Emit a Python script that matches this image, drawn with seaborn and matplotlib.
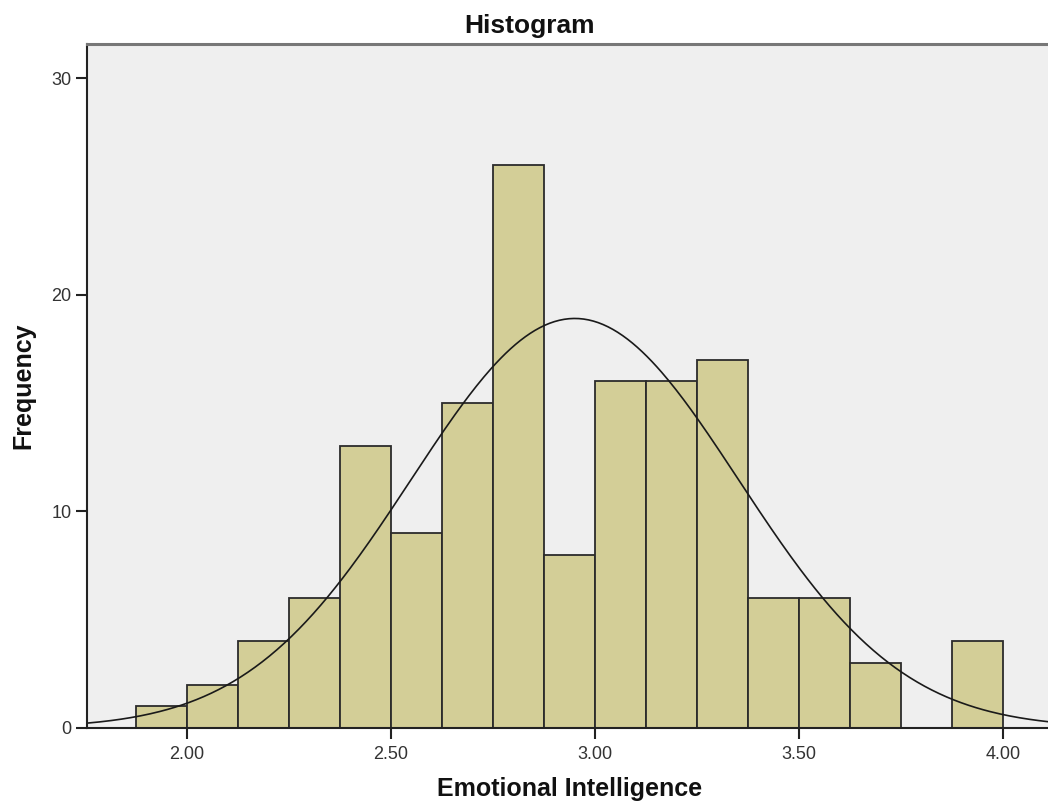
import numpy as np
import pandas as pd
import matplotlib
matplotlib.use("Agg")
import matplotlib.pyplot as plt
import seaborn as sns

# Histogram bins of Emotional Intelligence scores (width 0.125)
bin_edges = [1.875, 2.0, 2.125, 2.25, 2.375, 2.5, 2.625, 2.75, 2.875,
             3.0, 3.125, 3.25, 3.375, 3.5, 3.625, 3.75, 3.875, 4.0]
frequencies = [1, 2, 4, 6, 13, 9, 15, 26, 8, 16, 16, 17, 6, 6, 3, 0, 4]

# Normal curve parameters
curve_mean = 2.95
curve_sd = 0.401

x_ticks = [2.0, 2.5, 3.0, 3.5, 4.0]
x_tick_labels = ["2.00", "2.50", "3.00", "3.50", "4.00"]
y_ticks = [0, 10, 20, 30]

sns.set_theme(style="white")
plt.rcParams["font.family"] = ["Liberation Sans", "DejaVu Sans"]

fig = plt.figure(figsize=(10.48, 8.05), dpi=100)
ax = fig.add_axes([0.083, 0.0957, 0.927, 0.8496])
ax.set_facecolor("#EFEFEF")

edges = np.array(bin_edges)
mids = (edges[:-1] + edges[1:]) / 2
df = pd.DataFrame({"score": mids, "count": frequencies})
sns.histplot(data=df, x="score", weights="count", bins=list(bin_edges), ax=ax,
             color="#D3CE97", alpha=1.0, edgecolor="#2b2b2b", linewidth=1.3)

# Fitted normal curve scaled to counts
x_min, x_max = 1.755, 4.135
xs = np.linspace(x_min, x_max, 400)
n_total = sum(frequencies)
bin_w = edges[1] - edges[0]
ys = n_total * bin_w / (curve_sd * np.sqrt(2 * np.pi)) * np.exp(-0.5 * ((xs - curve_mean) / curve_sd) ** 2)
sns.lineplot(x=xs, y=ys, ax=ax, color="#1a1a1a", linewidth=1.2)

ax.set_xlim(x_min, x_max)
ax.set_ylim(0, 31.57)
ax.set_xticks(x_ticks)
ax.set_xticklabels(x_tick_labels)
ax.set_yticks(y_ticks)

ax.tick_params(axis="both", direction="out", length=8, width=1.5, colors="#222222",
               labelsize=13, labelcolor="#333333", pad=3,
               bottom=True, left=True)
ax.tick_params(axis="x", pad=5)

for side in ["left", "bottom"]:
    ax.spines[side].set_color("#222222")
    ax.spines[side].set_linewidth(1.5)
ax.spines["top"].set_color("#777777")
ax.spines["top"].set_linewidth(2.2)
ax.spines["right"].set_visible(False)

ax.set_title("Histogram", fontsize=19, fontweight="bold", color="#111111",
             x=0.456, pad=8)
ax.set_xlabel("Emotional Intelligence", fontsize=18, fontweight="bold", color="#111111")
ax.set_ylabel("Frequency", fontsize=18, fontweight="bold", color="#111111")
ax.xaxis.set_label_coords(0.497, -0.072)
ax.yaxis.set_label_coords(-0.053, 0.5)

fig.savefig("out.png", dpi=100, facecolor="white")
